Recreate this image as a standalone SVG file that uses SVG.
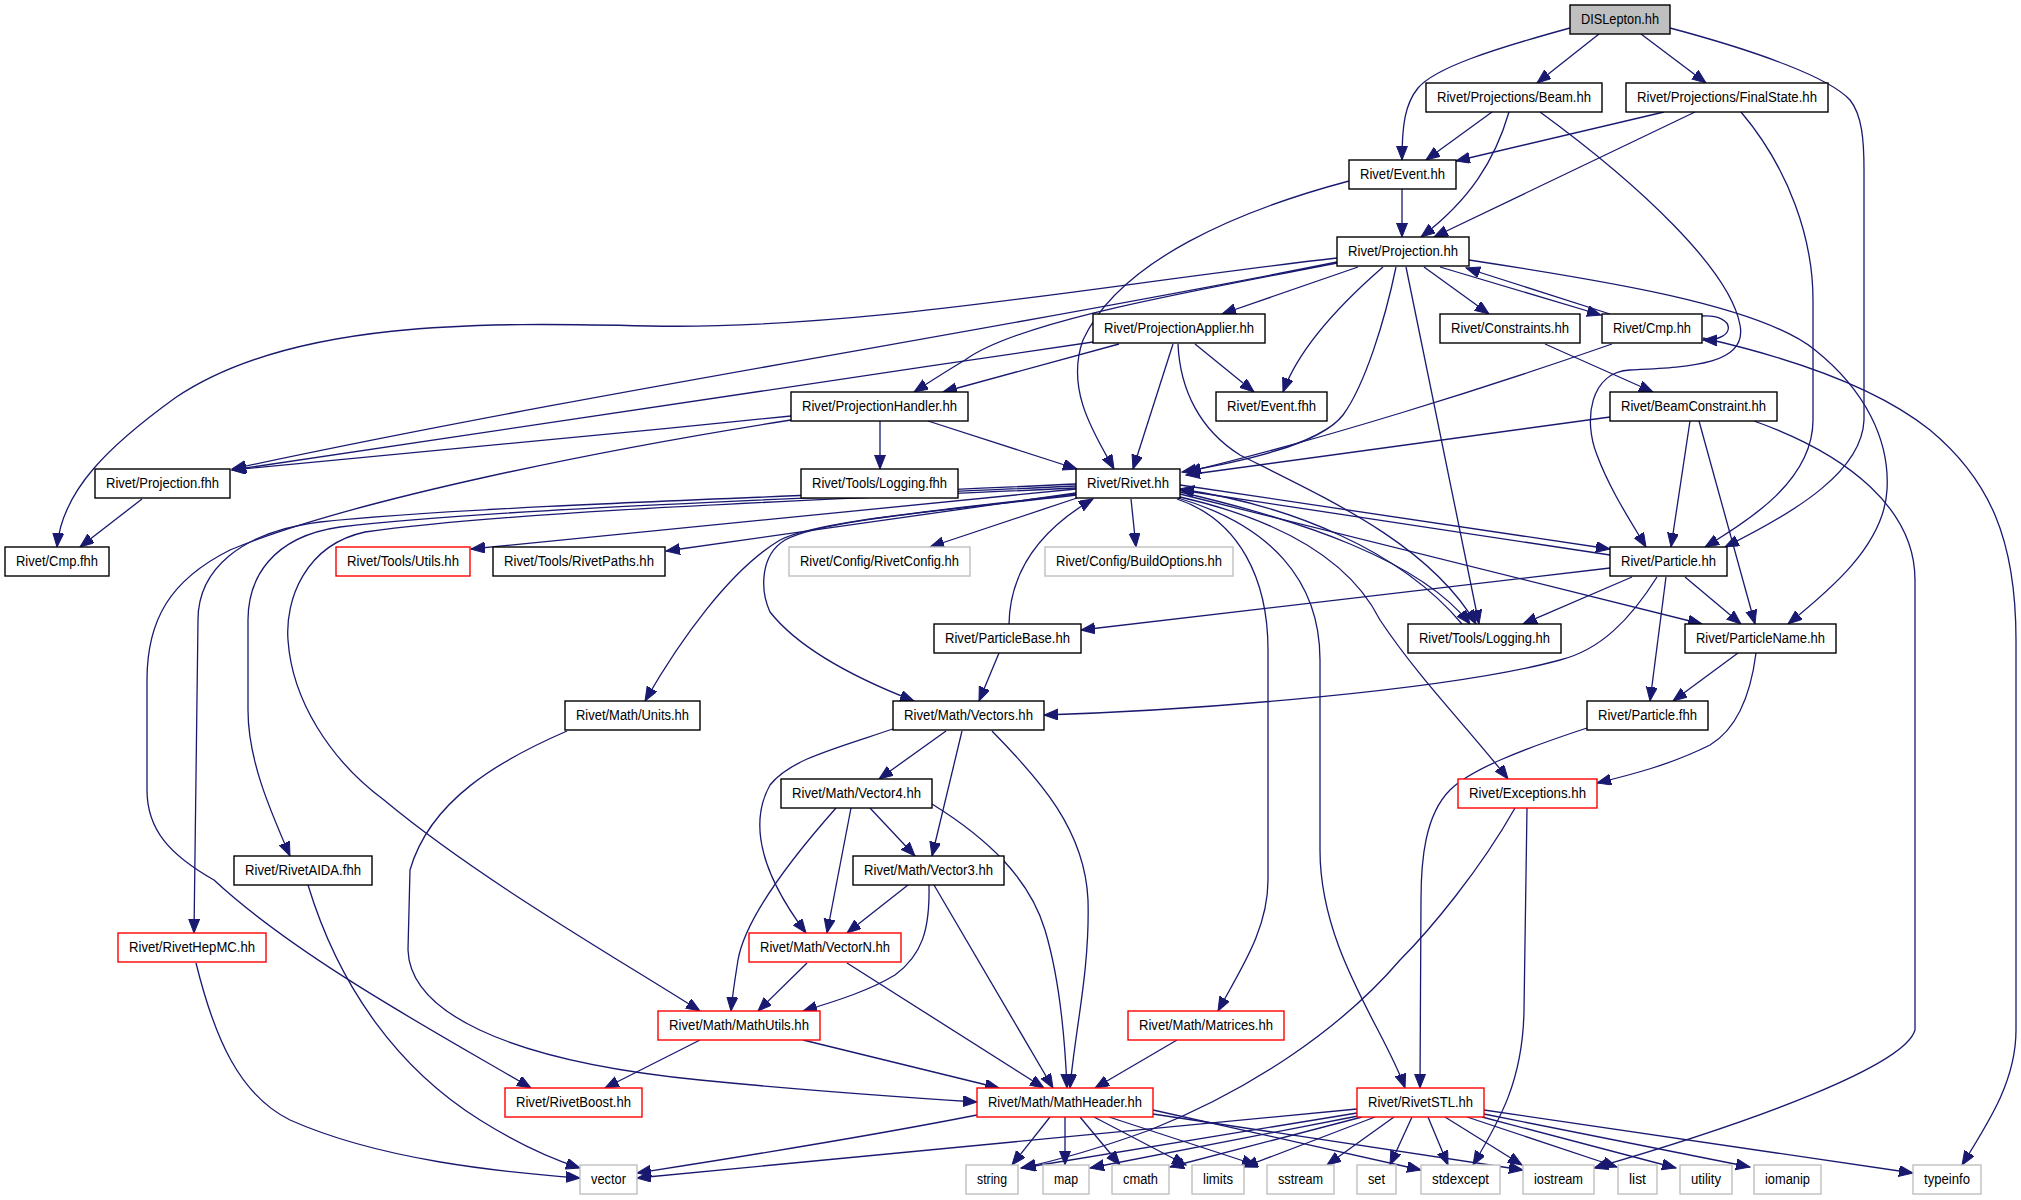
<svg xmlns="http://www.w3.org/2000/svg" width="2021" height="1200" viewBox="0 0 2021 1200">
<style>
.node rect{fill:#fff;stroke:#000;stroke-width:1.4}
.node.red rect{stroke:#ff0000}
.node.gray rect{stroke:#bfbfbf}
.node.root rect{fill:#bfbfbf}
.node text{font-family:"Liberation Sans",Arial,Helvetica,sans-serif;font-size:14px;fill:#000;text-anchor:middle}
.edges path{fill:none;stroke:#191970;stroke-width:1.3;marker-end:url(#arr)}
</style>
<defs>
<marker id="arr" markerUnits="userSpaceOnUse" markerWidth="15" markerHeight="12" refX="14" refY="5.5" orient="auto" viewBox="0 0 15 12">
<path d="M0,0 L14,5.5 L0,11 Z" fill="#191970" stroke="#191970" stroke-width="1"/>
</marker>
</defs>
<rect width="2021" height="1200" fill="#fff"/>
<g class="edges" id="edges">
<path d="M1570,28 C1490,50 1435,68 1418,88 C1405,104 1402,125 1402,160"/>
<path d="M1599,34 L1537,83"/>
<path d="M1641,34 L1706,83"/>
<path d="M1670,28 C1760,52 1830,78 1850,100 C1862,115 1864,140 1864,170 L1864,420 C1862,470 1800,510 1725,547"/>
<path d="M1492,112 L1426,160"/>
<path d="M1509,112 C1495,160 1470,200 1421,237"/>
<path d="M1540,112 C1640,185 1730,270 1740,325 C1748,365 1690,367 1630,370 C1590,372 1583,420 1597,455 C1610,490 1630,520 1646,547"/>
<path d="M1664,112 L1456,161"/>
<path d="M1695,112 L1434,237"/>
<path d="M1741,112 C1790,170 1813,240 1813,300 L1813,420 C1813,480 1750,520 1705,547"/>
<path d="M1402,189 L1402,237"/>
<path d="M1349,181 C1240,210 1120,260 1083,340 C1065,390 1095,435 1114,469"/>
<path d="M1358,267 L1222,314"/>
<path d="M1383,267 C1345,300 1300,345 1283,392"/>
<path d="M1396,267 C1385,320 1365,385 1343,415 C1320,445 1240,462 1182,472"/>
<path d="M1406,267 L1479,624"/>
<path d="M1424,267 L1489,314"/>
<path d="M1440,267 L1601,315"/>
<path d="M1610,314 L1466,268"/>
<path d="M1702,316 C1737,314 1737,341 1703,340"/>
<path d="M1469,260 C1600,280 1760,305 1815,350 C1865,390 1890,440 1887,490 C1884,545 1830,590 1788,624"/>
<path d="M1337,258 C1100,285 860,330 650,326 C480,322 290,320 175,398 C110,445 62,490 57,547"/>
<path d="M1337,262 C1000,330 600,390 232,469"/>
<path d="M1337,263 C1200,290 1020,320 965,360 C940,375 925,385 914,392"/>
<path d="M1093,342 C800,385 500,430 232,470"/>
<path d="M1119,344 L943,392"/>
<path d="M1173,344 L1133,469"/>
<path d="M1195,344 L1254,392"/>
<path d="M1178,344 C1180,390 1200,430 1240,455 C1330,500 1430,545 1476,624"/>
<path d="M1612,344 C1480,390 1320,440 1187,472"/>
<path d="M1610,417 L1186,475"/>
<path d="M1545,344 L1653,392"/>
<path d="M1690,421 L1671,547"/>
<path d="M1699,421 L1755,624"/>
<path d="M1754,421 C1850,455 1915,510 1915,580 L1915,1030 C1905,1065 1760,1120 1594,1168"/>
<path d="M1703,338 C1800,360 1880,390 1930,430 C1990,480 2016,540 2016,640 L2016,1030 C2016,1080 1990,1120 1962,1165"/>
<path d="M791,416 C600,435 400,455 232,470"/>
<path d="M880,421 L880,469"/>
<path d="M928,421 L1077,469"/>
<path d="M791,420 C600,450 350,500 230,550 C170,580 147,620 147,680 L147,790 C147,830 170,855 214,880 C300,960 450,1040 531,1088"/>
<path d="M142,499 L80,547"/>
<path d="M1076,489 L471,549"/>
<path d="M1076,493 L666,551"/>
<path d="M1077,498 L930,547"/>
<path d="M1131,499 L1136,547"/>
<path d="M1076,495 C950,510 820,520 785,540 C760,555 760,590 770,612 C800,650 860,680 914,701"/>
<path d="M1076,494 C950,510 820,520 780,540 C730,570 680,640 645,701"/>
<path d="M1076,484 C850,495 480,505 320,522 C240,532 198,570 198,620 L194,933"/>
<path d="M1076,486 C850,497 500,508 340,527 C270,537 248,580 248,620 L248,710 C248,760 270,810 290,856"/>
<path d="M1076,488 C850,499 520,510 365,532 C305,545 285,600 288,640 C292,700 330,760 384,800 C480,880 620,960 700,1011"/>
<path d="M1180,485 L1610,549"/>
<path d="M1610,555 L1180,490"/>
<path d="M1180,494 L1702,624"/>
<path d="M1180,492 C1300,520 1420,560 1470,624"/>
<path d="M1462,624 C1400,550 1290,505 1180,489"/>
<path d="M1180,497 C1280,520 1350,560 1380,620 C1420,680 1470,730 1508,779"/>
<path d="M1177,499 C1240,520 1268,580 1268,650 L1268,880 C1268,930 1240,970 1218,1011"/>
<path d="M1178,498 C1270,525 1320,580 1320,660 L1320,850 C1320,950 1385,1030 1405,1088"/>
<path d="M1009,624 C1010,570 1040,530 1093,499"/>
<path d="M999,653 L979,701"/>
<path d="M1610,568 L1081,630"/>
<path d="M1657,577 C1630,620 1600,650 1560,660 C1450,690 1200,710 1044,715"/>
<path d="M1632,577 L1523,624"/>
<path d="M1666,577 L1650,701"/>
<path d="M1685,577 L1741,624"/>
<path d="M1738,653 L1673,701"/>
<path d="M1756,653 C1750,700 1735,730 1710,745 C1670,765 1630,775 1597,783"/>
<path d="M1587,728 C1520,750 1470,770 1450,790 C1425,815 1421,860 1421,900 L1420,1088"/>
<path d="M1515,808 C1480,870 1430,930 1400,960 C1340,1030 1250,1090 1150,1130 C1100,1148 1060,1160 1021,1168"/>
<path d="M1527,808 L1524,1010 C1523,1080 1500,1120 1473,1165"/>
<path d="M946,731 L879,779"/>
<path d="M962,731 L932,856"/>
<path d="M893,729 C830,750 790,760 770,785 C745,830 770,885 806,933"/>
<path d="M992,731 C1040,780 1085,830 1088,900 C1090,970 1075,1030 1070,1088"/>
<path d="M870,808 L915,856"/>
<path d="M851,808 L827,933"/>
<path d="M836,808 C790,860 745,920 738,960 C734,985 732,1000 731,1011"/>
<path d="M932,804 C990,840 1030,880 1045,930 C1060,980 1065,1040 1067,1088"/>
<path d="M908,885 L847,933"/>
<path d="M929,885 C930,930 922,955 895,975 C870,990 840,1000 803,1011"/>
<path d="M934,885 L1053,1088"/>
<path d="M807,963 L758,1011"/>
<path d="M847,963 L1044,1088"/>
<path d="M803,1040 L999,1088"/>
<path d="M700,1040 L605,1088"/>
<path d="M567,731 C500,760 430,800 410,870 L408,950 C410,1010 500,1060 700,1080 C800,1090 900,1097 977,1102"/>
<path d="M1177,1040 L1095,1088"/>
<path d="M308,885 C340,990 400,1070 480,1120 C520,1145 555,1160 580,1168"/>
<path d="M196,963 C215,1040 240,1095 290,1120 C380,1160 500,1172 580,1178"/>
<path d="M977,1115 C850,1140 720,1160 637,1173"/>
<path d="M1050,1117 L1012,1165"/>
<path d="M1065,1117 L1065,1165"/>
<path d="M1080,1117 L1120,1165"/>
<path d="M1094,1117 L1186,1165"/>
<path d="M1109,1117 L1256,1165"/>
<path d="M1153,1110 L1421,1170"/>
<path d="M1153,1114 L1523,1170"/>
<path d="M1357,1109 L637,1178"/>
<path d="M1357,1113 L1022,1168"/>
<path d="M1358,1116 L1090,1168"/>
<path d="M1362,1117 L1170,1167"/>
<path d="M1375,1117 L1244,1167"/>
<path d="M1394,1117 L1327,1165"/>
<path d="M1412,1117 L1390,1165"/>
<path d="M1428,1117 L1448,1165"/>
<path d="M1445,1117 L1522,1165"/>
<path d="M1467,1117 L1617,1167"/>
<path d="M1482,1117 L1676,1168"/>
<path d="M1484,1114 L1750,1167"/>
<path d="M1484,1110 L1913,1173"/>
</g>
<g id="n_dislepton" class="node root"><rect x="1570" y="5" width="100" height="29"/><text x="1620" y="24" textLength="78" lengthAdjust="spacingAndGlyphs">DISLepton.hh</text></g>
<g id="n_beam" class="node"><rect x="1426" y="83" width="176" height="29"/><text x="1514" y="102" textLength="154" lengthAdjust="spacingAndGlyphs">Rivet/Projections/Beam.hh</text></g>
<g id="n_finalstate" class="node"><rect x="1626" y="83" width="202" height="29"/><text x="1727" y="102" textLength="180" lengthAdjust="spacingAndGlyphs">Rivet/Projections/FinalState.hh</text></g>
<g id="n_event" class="node"><rect x="1349" y="160" width="107" height="29"/><text x="1402.5" y="179" textLength="85" lengthAdjust="spacingAndGlyphs">Rivet/Event.hh</text></g>
<g id="n_projection" class="node"><rect x="1337" y="237" width="132" height="29"/><text x="1403" y="256" textLength="110" lengthAdjust="spacingAndGlyphs">Rivet/Projection.hh</text></g>
<g id="n_projapplier" class="node"><rect x="1093" y="314" width="172" height="29"/><text x="1179" y="333" textLength="150" lengthAdjust="spacingAndGlyphs">Rivet/ProjectionApplier.hh</text></g>
<g id="n_constraints" class="node"><rect x="1440" y="314" width="140" height="29"/><text x="1510" y="333" textLength="118" lengthAdjust="spacingAndGlyphs">Rivet/Constraints.hh</text></g>
<g id="n_cmp" class="node"><rect x="1602" y="314" width="100" height="29"/><text x="1652" y="333" textLength="78" lengthAdjust="spacingAndGlyphs">Rivet/Cmp.hh</text></g>
<g id="n_projhandler" class="node"><rect x="791" y="392" width="177" height="29"/><text x="879.5" y="411" textLength="155" lengthAdjust="spacingAndGlyphs">Rivet/ProjectionHandler.hh</text></g>
<g id="n_eventfhh" class="node"><rect x="1216" y="392" width="111" height="29"/><text x="1271.5" y="411" textLength="89" lengthAdjust="spacingAndGlyphs">Rivet/Event.fhh</text></g>
<g id="n_beamconstraint" class="node"><rect x="1610" y="392" width="167" height="29"/><text x="1693.5" y="411" textLength="145" lengthAdjust="spacingAndGlyphs">Rivet/BeamConstraint.hh</text></g>
<g id="n_projfhh" class="node"><rect x="95" y="469" width="135" height="29"/><text x="162.5" y="488" textLength="113" lengthAdjust="spacingAndGlyphs">Rivet/Projection.fhh</text></g>
<g id="n_loggingfhh" class="node"><rect x="801" y="469" width="157" height="29"/><text x="879.5" y="488" textLength="135" lengthAdjust="spacingAndGlyphs">Rivet/Tools/Logging.fhh</text></g>
<g id="n_rivet" class="node"><rect x="1076" y="469" width="104" height="29"/><text x="1128" y="488" textLength="82" lengthAdjust="spacingAndGlyphs">Rivet/Rivet.hh</text></g>
<g id="n_cmpfhh" class="node"><rect x="5" y="547" width="104" height="29"/><text x="57" y="566" textLength="82" lengthAdjust="spacingAndGlyphs">Rivet/Cmp.fhh</text></g>
<g id="n_utils" class="node red"><rect x="336" y="547" width="134" height="29"/><text x="403" y="566" textLength="112" lengthAdjust="spacingAndGlyphs">Rivet/Tools/Utils.hh</text></g>
<g id="n_rivetpaths" class="node"><rect x="493" y="547" width="172" height="29"/><text x="579" y="566" textLength="150" lengthAdjust="spacingAndGlyphs">Rivet/Tools/RivetPaths.hh</text></g>
<g id="n_rivetconfig" class="node gray"><rect x="789" y="547" width="181" height="29"/><text x="879.5" y="566" textLength="159" lengthAdjust="spacingAndGlyphs">Rivet/Config/RivetConfig.hh</text></g>
<g id="n_buildoptions" class="node gray"><rect x="1045" y="547" width="188" height="29"/><text x="1139" y="566" textLength="166" lengthAdjust="spacingAndGlyphs">Rivet/Config/BuildOptions.hh</text></g>
<g id="n_particle" class="node"><rect x="1610" y="547" width="117" height="29"/><text x="1668.5" y="566" textLength="95" lengthAdjust="spacingAndGlyphs">Rivet/Particle.hh</text></g>
<g id="n_particlebase" class="node"><rect x="934" y="624" width="147" height="29"/><text x="1007.5" y="643" textLength="125" lengthAdjust="spacingAndGlyphs">Rivet/ParticleBase.hh</text></g>
<g id="n_logging" class="node"><rect x="1408" y="624" width="153" height="29"/><text x="1484.5" y="643" textLength="131" lengthAdjust="spacingAndGlyphs">Rivet/Tools/Logging.hh</text></g>
<g id="n_particlename" class="node"><rect x="1685" y="624" width="151" height="29"/><text x="1760.5" y="643" textLength="129" lengthAdjust="spacingAndGlyphs">Rivet/ParticleName.hh</text></g>
<g id="n_units" class="node"><rect x="565" y="701" width="135" height="29"/><text x="632.5" y="720" textLength="113" lengthAdjust="spacingAndGlyphs">Rivet/Math/Units.hh</text></g>
<g id="n_vectors" class="node"><rect x="893" y="701" width="151" height="29"/><text x="968.5" y="720" textLength="129" lengthAdjust="spacingAndGlyphs">Rivet/Math/Vectors.hh</text></g>
<g id="n_particlefhh" class="node"><rect x="1587" y="701" width="121" height="29"/><text x="1647.5" y="720" textLength="99" lengthAdjust="spacingAndGlyphs">Rivet/Particle.fhh</text></g>
<g id="n_vector4" class="node"><rect x="781" y="779" width="151" height="29"/><text x="856.5" y="798" textLength="129" lengthAdjust="spacingAndGlyphs">Rivet/Math/Vector4.hh</text></g>
<g id="n_exceptions" class="node red"><rect x="1458" y="779" width="139" height="29"/><text x="1527.5" y="798" textLength="117" lengthAdjust="spacingAndGlyphs">Rivet/Exceptions.hh</text></g>
<g id="n_rivetaida" class="node"><rect x="234" y="856" width="138" height="29"/><text x="303" y="875" textLength="116" lengthAdjust="spacingAndGlyphs">Rivet/RivetAIDA.fhh</text></g>
<g id="n_vector3" class="node"><rect x="853" y="856" width="151" height="29"/><text x="928.5" y="875" textLength="129" lengthAdjust="spacingAndGlyphs">Rivet/Math/Vector3.hh</text></g>
<g id="n_rivethepmc" class="node red"><rect x="118" y="933" width="148" height="29"/><text x="192" y="952" textLength="126" lengthAdjust="spacingAndGlyphs">Rivet/RivetHepMC.hh</text></g>
<g id="n_vectorn" class="node red"><rect x="749" y="933" width="152" height="29"/><text x="825" y="952" textLength="130" lengthAdjust="spacingAndGlyphs">Rivet/Math/VectorN.hh</text></g>
<g id="n_mathutils" class="node red"><rect x="658" y="1011" width="162" height="29"/><text x="739" y="1030" textLength="140" lengthAdjust="spacingAndGlyphs">Rivet/Math/MathUtils.hh</text></g>
<g id="n_matrices" class="node red"><rect x="1128" y="1011" width="156" height="29"/><text x="1206" y="1030" textLength="134" lengthAdjust="spacingAndGlyphs">Rivet/Math/Matrices.hh</text></g>
<g id="n_rivetboost" class="node red"><rect x="505" y="1088" width="137" height="29"/><text x="573.5" y="1107" textLength="115" lengthAdjust="spacingAndGlyphs">Rivet/RivetBoost.hh</text></g>
<g id="n_mathheader" class="node red"><rect x="977" y="1088" width="176" height="29"/><text x="1065" y="1107" textLength="154" lengthAdjust="spacingAndGlyphs">Rivet/Math/MathHeader.hh</text></g>
<g id="n_rivetstl" class="node red"><rect x="1357" y="1088" width="127" height="29"/><text x="1420.5" y="1107" textLength="105" lengthAdjust="spacingAndGlyphs">Rivet/RivetSTL.hh</text></g>
<g id="n_vector" class="node gray"><rect x="580" y="1165" width="57" height="29"/><text x="608.5" y="1184" textLength="35" lengthAdjust="spacingAndGlyphs">vector</text></g>
<g id="n_string" class="node gray"><rect x="966" y="1165" width="52" height="29"/><text x="992" y="1184" textLength="30" lengthAdjust="spacingAndGlyphs">string</text></g>
<g id="n_map" class="node gray"><rect x="1043" y="1165" width="46" height="29"/><text x="1066" y="1184" textLength="24" lengthAdjust="spacingAndGlyphs">map</text></g>
<g id="n_cmath" class="node gray"><rect x="1112" y="1165" width="57" height="29"/><text x="1140.5" y="1184" textLength="35" lengthAdjust="spacingAndGlyphs">cmath</text></g>
<g id="n_limits" class="node gray"><rect x="1192" y="1165" width="52" height="29"/><text x="1218" y="1184" textLength="30" lengthAdjust="spacingAndGlyphs">limits</text></g>
<g id="n_sstream" class="node gray"><rect x="1267" y="1165" width="67" height="29"/><text x="1300.5" y="1184" textLength="45" lengthAdjust="spacingAndGlyphs">sstream</text></g>
<g id="n_set" class="node gray"><rect x="1357" y="1165" width="39" height="29"/><text x="1376.5" y="1184" textLength="17" lengthAdjust="spacingAndGlyphs">set</text></g>
<g id="n_stdexcept" class="node gray"><rect x="1421" y="1165" width="79" height="29"/><text x="1460.5" y="1184" textLength="57" lengthAdjust="spacingAndGlyphs">stdexcept</text></g>
<g id="n_iostream" class="node gray"><rect x="1523" y="1165" width="71" height="29"/><text x="1558.5" y="1184" textLength="49" lengthAdjust="spacingAndGlyphs">iostream</text></g>
<g id="n_list" class="node gray"><rect x="1618" y="1165" width="39" height="29"/><text x="1637.5" y="1184" textLength="17" lengthAdjust="spacingAndGlyphs">list</text></g>
<g id="n_utility" class="node gray"><rect x="1680" y="1165" width="52" height="29"/><text x="1706" y="1184" textLength="30" lengthAdjust="spacingAndGlyphs">utility</text></g>
<g id="n_iomanip" class="node gray"><rect x="1754" y="1165" width="67" height="29"/><text x="1787.5" y="1184" textLength="45" lengthAdjust="spacingAndGlyphs">iomanip</text></g>
<g id="n_typeinfo" class="node gray"><rect x="1913" y="1165" width="68" height="29"/><text x="1947" y="1184" textLength="46" lengthAdjust="spacingAndGlyphs">typeinfo</text></g>
</svg>
